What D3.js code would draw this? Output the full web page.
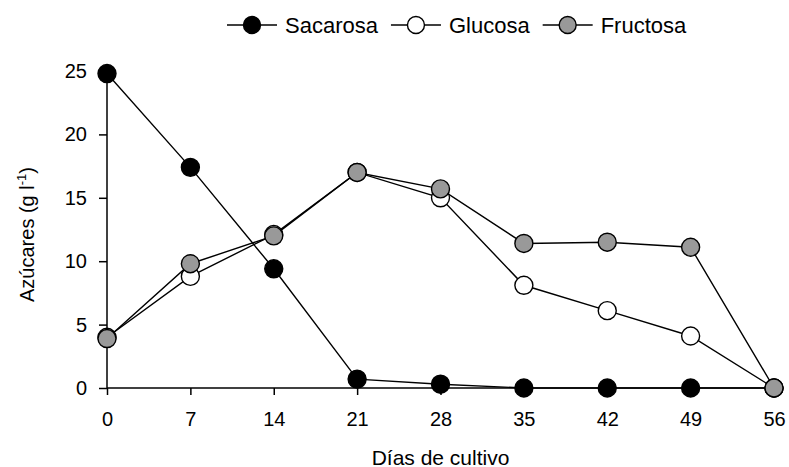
<!DOCTYPE html>
<html>
<head>
<meta charset="utf-8">
<script src="https://cdn.jsdelivr.net/npm/d3@7"></script>
<style>
  html, body { margin: 0; padding: 0; background: #ffffff; }
  svg { display: block; }
  text { font-family: "Liberation Sans", Arial, Helvetica, sans-serif; fill: #000; }
</style>
</head>
<body>
<svg id="chart" width="789" height="467"></svg>
<script>
// Sugar content during cultivation (g l-1)
const days = [0, 7, 14, 21, 28, 35, 42, 49, 56];
const sacarosa = [24.8, 17.4, 9.4, 0.7, 0.3, 0, 0, 0, 0];
const glucosa  = [4.0, 8.8, 12.1, 17.0, 15.0, 8.1, 6.1, 4.1, 0];
const fructosa = [3.9, 9.8, 12.0, 17.0, 15.7, 11.4, 11.5, 11.1, 0];
const seriesNames = ["Sacarosa", "Glucosa", "Fructosa"];
const seriesFills = ["#000000", "#ffffff", "#999999"];
const yTicks = [0, 5, 10, 15, 20, 25];
const xTitle = "Días de cultivo";
const yTitle = "Azúcares (g l";

const series = [sacarosa, glucosa, fructosa].map((vals, i) => ({
  name: seriesNames[i],
  fill: seriesFills[i],
  points: days.map((d, j) => ({ x: d, y: vals[j] }))
}));

const svg = d3.select("#chart");
const plot = { left: 107, right: 774, top: 71, bottom: 388 };

const x = d3.scaleLinear().domain([0, 56]).range([plot.left, plot.right]);
const y = d3.scaleLinear().domain([0, 25]).range([plot.bottom, plot.top]);

// Axes
const xAxis = d3.axisBottom(x).tickValues(days).tickSize(7).tickPadding(17)
  .tickFormat(d3.format("d"));
const yAxis = d3.axisLeft(y).tickValues(yTicks).tickSize(8).tickPadding(12)
  .tickFormat(d3.format("d"));

const gx = svg.append("g").attr("transform", `translate(0,${plot.bottom})`).call(xAxis);
const gy = svg.append("g").attr("transform", `translate(${plot.left},0)`).call(yAxis);

[gx, gy].forEach(g => {
  g.selectAll(".domain").attr("stroke", "#000").attr("stroke-width", 1.5)
    .attr("d", null);
  g.selectAll(".tick line").attr("stroke", "#000").attr("stroke-width", 1.5);
  g.selectAll(".tick text").attr("font-size", 20)
    .attr("font-family", "'Liberation Sans', Arial, sans-serif");
});
// Plain axis lines (no end caps)
gx.select(".domain").attr("d", `M${plot.left},0H${plot.right}`);
gy.select(".domain").attr("d", `M0,${plot.top}V${plot.bottom}`);

// Axis titles
svg.append("text")
  .attr("x", (plot.left + plot.right) / 2)
  .attr("y", 465)
  .attr("text-anchor", "middle")
  .attr("font-size", 21)
  .text(xTitle);

const yt = svg.append("text")
  .attr("transform", `translate(34,${(plot.top + plot.bottom) / 2 + 5}) rotate(-90)`)
  .attr("text-anchor", "middle")
  .attr("font-size", 20);
yt.append("tspan").text(yTitle);
yt.append("tspan").attr("font-size", 13).attr("dy", -8).text("-1");
yt.append("tspan").attr("dy", 8).text(")");

// Lines and markers
const line = d3.line().x(d => x(d.x)).y(d => y(d.y));
const r = 9;

series.forEach(s => {
  const g = svg.append("g");
  g.append("path")
    .datum(s.points)
    .attr("d", line)
    .attr("fill", "none")
    .attr("stroke", "#000")
    .attr("stroke-width", 1.4);
  g.selectAll("circle")
    .data(s.points)
    .join("circle")
    .attr("cx", d => x(d.x))
    .attr("cy", d => y(d.y))
    .attr("r", r)
    .attr("fill", s.fill)
    .attr("stroke", "#000")
    .attr("stroke-width", 1.4);
});

// Legend
const legend = svg.append("g").attr("transform", "translate(0,25)");
let lx = 227;
series.forEach(s => {
  const item = legend.append("g").attr("transform", `translate(${lx},0)`);
  item.append("line").attr("x1", 0).attr("x2", 50).attr("y1", 0).attr("y2", 0)
    .attr("stroke", "#000").attr("stroke-width", 1.4);
  item.append("circle").attr("cx", 25).attr("cy", 0).attr("r", 8.5)
    .attr("fill", s.fill).attr("stroke", "#000").attr("stroke-width", 1.4);
  const t = item.append("text").attr("x", 58).attr("y", 0).attr("dy", "0.36em")
    .attr("font-size", 22).text(s.name);
  lx += 58 + t.node().getComputedTextLength() + 13;
});
</script>
</body>
</html>
